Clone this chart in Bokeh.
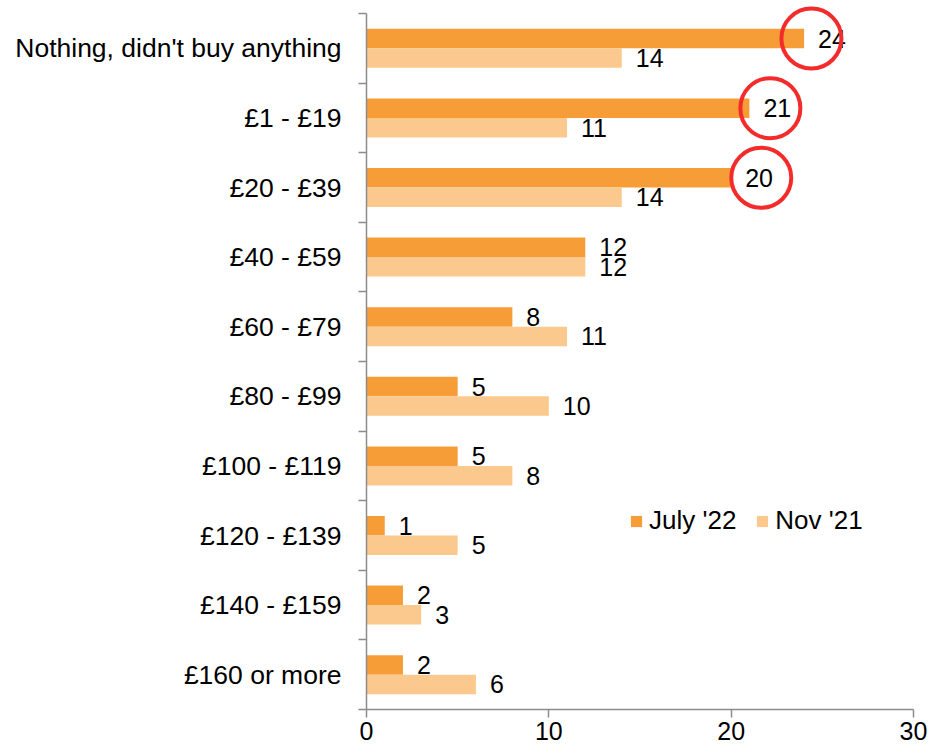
from bokeh.plotting import figure
from bokeh.models import Range1d, FixedTicker, ColumnDataSource, Legend, LegendItem
from bokeh.core.properties import value
from bokeh.embed import file_html
from bokeh.resources import INLINE

# ---- data (top to bottom) ----
categories = ["Nothing, didn't buy anything", "£1 - £19", "£20 - £39", "£40 - £59",
              "£60 - £79", "£80 - £99", "£100 - £119", "£120 - £139",
              "£140 - £159", "£160 or more"]
july_22 = [24, 21, 20, 12, 8, 5, 5, 1, 2, 2]
nov_21 = [14, 11, 14, 12, 11, 10, 8, 5, 3, 6]
x_ticks = [0, 10, 20, 30]
series_names = ["July '22", "Nov '21"]
highlighted = [0, 1, 2]  # categories whose July value is circled

# ---- styling ----
FONT = "Liberation Sans"
C_JULY = "#F79D38"
C_NOV = "#FBC88E"
AXIS_C = "#8C8C8C"
BAR_H = 0.28
TOP_PAD = 0.187  # extra room above the axis so the top circle is not clipped

n = len(categories)
centers = [n - 0.5 - j for j in range(n)]
y_july = [c + BAR_H / 2 for c in centers]
y_nov = [c - BAR_H / 2 for c in centers]

src_j = ColumnDataSource(dict(y=y_july, v=july_22, t=[str(v) for v in july_22]))
src_n = ColumnDataSource(dict(y=y_nov, v=nov_21, t=[str(v) for v in nov_21]))

p = figure(width=930, height=751, output_backend="svg", toolbar_location=None,
           x_range=Range1d(0, 30), y_range=Range1d(0, n + TOP_PAD),
           min_border_left=366, min_border_right=17, min_border_top=0, min_border_bottom=42)
p.outline_line_color = None
p.grid.visible = False
p.background_fill_color = "white"

r_j = p.hbar(y="y", right="v", left=0, height=BAR_H, source=src_j,
             fill_color=C_JULY, line_color=None)
r_n = p.hbar(y="y", right="v", left=0, height=BAR_H, source=src_n,
             fill_color=C_NOV, line_color=None)

for src in (src_j, src_n):
    p.text(x="v", y="y", text="t", source=src, x_offset=14, text_baseline="middle",
           text_align="left", text_font=value(FONT), text_font_size="25px", text_color="black")

# red highlight circles (annotation)
circle_shift = [0.4, 1.15, 1.65]
p.scatter(x=[july_22[i] + s for i, s in zip(highlighted, circle_shift)],
          y=[y_july[i] for i in highlighted], marker="circle", size=60,
          fill_alpha=0, line_color="#F42B2B", line_width=4)

# axes
xa = p.xaxis[0]
xa.ticker = FixedTicker(ticks=x_ticks, minor_ticks=[])
xa.axis_line_color = AXIS_C
xa.axis_line_width = 1.5
xa.major_tick_line_color = AXIS_C
xa.major_tick_line_width = 1.5
xa.major_tick_out = 8
xa.major_tick_in = 0
xa.minor_tick_line_color = None
xa.major_label_standoff = 4
xa.major_label_text_font = FONT
xa.major_label_text_font_size = "25px"
xa.major_label_text_color = "black"

ya = p.yaxis[0]
ya.bounds = (0, n)
ya.ticker = FixedTicker(ticks=centers, minor_ticks=list(range(0, n + 1)))
ya.major_label_overrides = {c: lab for c, lab in zip(centers, categories)}
ya.axis_line_color = AXIS_C
ya.axis_line_width = 1.5
ya.major_tick_line_color = None
ya.major_tick_out = 0
ya.major_tick_in = 0
ya.minor_tick_line_color = AXIS_C
ya.minor_tick_line_width = 1.5
ya.minor_tick_out = 8
ya.minor_tick_in = 0
ya.major_label_standoff = 17
ya.major_label_text_font = FONT
ya.major_label_text_font_size = "26.5px"
ya.major_label_text_color = "black"

legend = Legend(items=[LegendItem(label=series_names[0], renderers=[r_j]),
                       LegendItem(label=series_names[1], renderers=[r_n])],
                orientation="horizontal", location=(263, 173),
                glyph_width=14, glyph_height=14, label_standoff=6, spacing=19,
                padding=0, margin=0, border_line_alpha=0, background_fill_alpha=0,
                label_text_font=FONT, label_text_font_size="26px", label_text_color="black")
p.add_layout(legend)

open("out.html", "w").write(file_html(p, INLINE))
